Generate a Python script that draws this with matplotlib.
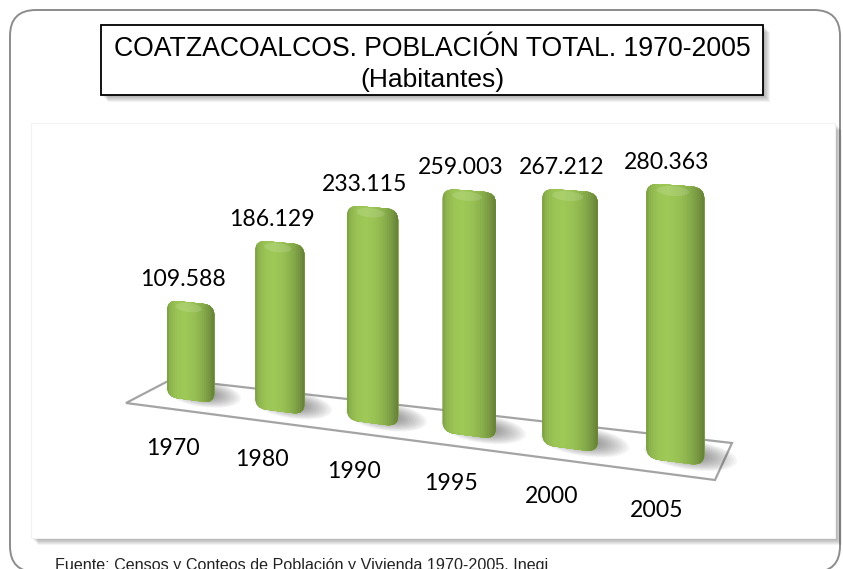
import numpy as np
import matplotlib
matplotlib.use('Agg')
import matplotlib.pyplot as plt
from matplotlib import transforms as mtransforms
from matplotlib.patches import FancyBboxPatch, Rectangle, Ellipse, Polygon
from matplotlib.colors import to_rgb

# ---------------- data ----------------
years = ['1970', '1980', '1990', '1995', '2000', '2005']
population = [109588, 186129, 233115, 259003, 267212, 280363]
value_labels = ['109.588', '186.129', '233.115', '259.003', '267.212', '280.363']

title_line1 = 'COATZACOALCOS. POBLACIÓN TOTAL. 1970-2005'
title_line2 = '(Habitantes)'
source_note = 'Fuente: Censos y Conteos de Población y Vivienda 1970-2005. Inegi'

# ---------------- figure / canvas ----------------
W, H = 843, 569
fig = plt.figure(figsize=(W / 100, H / 100), dpi=100)
fig.patch.set_facecolor('white')
canvas = fig.add_axes([0, 0, 1, 1])
canvas.set_xlim(0, W)
canvas.set_ylim(H, 0)
canvas.axis('off')


class Perspective(mtransforms.Transform):
    """Projective map of the (category, value) plane of the bar fronts."""
    input_dims = 2
    output_dims = 2
    is_separable = False
    has_inverse = False

    def __init__(self, a, b, c, d, e, f):
        super().__init__()
        self.a, self.b, self.c, self.d, self.e, self.f = a, b, c, d, e, f

    def transform_non_affine(self, values):
        values = np.asarray(values, dtype=float)
        u = values[..., 0]
        v = values[..., 1]
        w = 1.0 + self.c * u
        x = (self.a * u + self.b) / w
        y = (self.d * u + self.e * v + self.f) / w
        return np.stack([x, y], axis=-1)


persp = Perspective(83.6, 190.5, -0.0197, 3.3, -0.00089, 400.0)
bar_trans = persp + canvas.transData

# ---------------- outer frame ----------------
canvas.add_patch(FancyBboxPatch((10, 10), 830, 562,
                                boxstyle='round,pad=0,rounding_size=26',
                                fc='white', ec='#8c8c8c', lw=1.4, zorder=0))

# ---------------- plot area with shadow ----------------
pa_x, pa_y, pa_w, pa_h = 31, 123, 804, 415
for o in range(1, 8):
    canvas.add_patch(Rectangle((pa_x + o, pa_y + o), pa_w, pa_h,
                               fc='black', ec='none', alpha=0.05, zorder=1))
canvas.add_patch(Rectangle((pa_x, pa_y), pa_w, pa_h, fc='white',
                           ec='#f2f2f2', lw=0.8, zorder=2))

# ---------------- title box with shadow ----------------
tb_x, tb_y, tb_w, tb_h = 101, 25, 662, 70
for o in range(1, 8):
    canvas.add_patch(Rectangle((tb_x + o, tb_y + o), tb_w, tb_h,
                               fc='black', ec='none', alpha=0.05, zorder=3))
canvas.add_patch(Rectangle((tb_x, tb_y), tb_w, tb_h, fc='white',
                           ec='black', lw=1.3, zorder=4))
canvas.text(tb_x + tb_w / 2, 56, title_line1, ha='center', va='baseline',
            fontsize=19.2, family='Liberation Sans', color='black', zorder=5)
canvas.text(tb_x + tb_w / 2, 87, title_line2, ha='center', va='baseline',
            fontsize=19.0, family='Liberation Sans', color='black', zorder=5)

# ---------------- floor ----------------
floor = Polygon([(126, 403), (172, 379), (732, 443), (715, 480)], closed=True,
                fc='white', ec='#a4a4a4', lw=1.6, zorder=6)
canvas.add_patch(floor)

# ---------------- bars ----------------
hw = 0.27
r = 0.12
asp = 10.0 / 0.89 * 1000 / r
base_rgb = np.array(to_rgb('#97c053'))
prof_t = [0.0, 0.07, 0.2, 0.38, 0.58, 0.76, 0.9, 1.0]
prof_b = [0.82, 0.94, 1.02, 1.05, 1.0, 0.90, 0.78, 0.66]
nstrip = 24

for i, val in enumerate(population):
    # soft shadow on the floor, behind and to the right of the base
    for k in range(12):
        s = 1.0 - k * 0.065
        canvas.add_patch(Ellipse((i + 0.14, 9000), 0.86 * s, 30000 * s,
                                 transform=bar_trans, fc='#333333', ec='none',
                                 alpha=0.05, zorder=7))
    bar = FancyBboxPatch((i - hw, 0), 2 * hw, val,
                         boxstyle=f'round,pad=0,rounding_size={r}',
                         mutation_aspect=asp, transform=bar_trans,
                         fc='#6e9131', ec='none', zorder=8)
    canvas.add_patch(bar)
    edges = np.linspace(i - hw, i + hw, nstrip + 1)
    for j in range(nstrip):
        t = (j + 0.5) / nstrip
        c = np.clip(base_rgb * np.interp(t, prof_t, prof_b), 0, 1)
        st = Rectangle((edges[j], -20000), (i + hw + 0.05) - edges[j],
                       val + 40000, transform=bar_trans, fc=c, ec='none',
                       zorder=9)
        canvas.add_patch(st)
        st.set_clip_path(bar)
    hl = Ellipse((i - 0.02, val - 6000), 0.30, 10000, transform=bar_trans,
                 fc='white', ec='none', alpha=0.13, zorder=10)
    canvas.add_patch(hl)
    hl.set_clip_path(bar)

    canvas.annotate(value_labels[i], xy=(i, val), xycoords=bar_trans,
                    xytext=(-8, 23), textcoords='offset pixels',
                    ha='center', va='center', fontsize=16.6, family='Lato',
                    color='black', zorder=11)
    canvas.annotate(years[i], xy=(i, 0), xycoords=bar_trans,
                    xytext=(-18, -48), textcoords='offset pixels',
                    ha='center', va='center', fontsize=16.6, family='Lato',
                    color='black', zorder=11)

# ---------------- source note ----------------
canvas.text(55, 570, source_note, ha='left', va='baseline', fontsize=11.6,
            family='Liberation Sans', color='#222222', zorder=5)

fig.savefig('out.png', dpi=100, facecolor='white')
